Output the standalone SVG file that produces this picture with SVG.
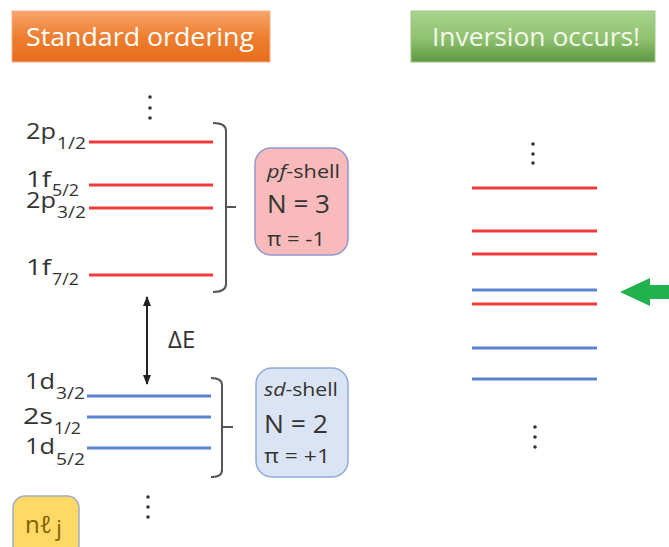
<svg xmlns="http://www.w3.org/2000/svg" width="669" height="547" viewBox="0 0 669 547">
<defs>
<linearGradient id="gOrange" x1="0" y1="0" x2="0" y2="1">
<stop offset="0" stop-color="#f7a46c"/>
<stop offset="0.5" stop-color="#ee7f30"/>
<stop offset="1" stop-color="#e66d1c"/>
</linearGradient>
<linearGradient id="gGreen" x1="0" y1="0" x2="0" y2="1">
<stop offset="0" stop-color="#a9d38e"/>
<stop offset="0.55" stop-color="#8fc16f"/>
<stop offset="1" stop-color="#5e9742"/>
</linearGradient>
<filter id="blur" x="-5%" y="-100%" width="110%" height="300%">
<feGaussianBlur stdDeviation="1"/>
</filter>
<marker id="ah" viewBox="0 0 10 10" refX="9" refY="5" markerWidth="5" markerHeight="5" orient="auto-start-reverse">
<path d="M0,1 L10,5 L0,9 Z" fill="#222"/>
</marker>
</defs>
<style>
text{font-family:"Open Sans",Lato,"Liberation Sans",sans-serif;fill:#333}
.hdr{fill:#ffffff;font-size:25px}
.lab{font-size:22px}
.sub{font-size:16px}
.red{stroke:#f23a3a;stroke-width:3}
.blue{stroke:#5b83d3;stroke-width:3}
.sh{stroke:#c8c8c8;stroke-width:3;filter:url(#blur)}
.br{fill:none;stroke:#555;stroke-width:2}
.dot{fill:#333}
.bt{font-size:18px}
.bn{font-size:26px}
.bp{font-size:20px}
</style>

<g id="header-standard">
<rect x="12" y="11" width="258" height="51" fill="url(#gOrange)" stroke="#f3b088" stroke-width="1"/>
<text class="hdr" x="26" y="46" textLength="228" lengthAdjust="spacingAndGlyphs">Standard ordering</text>
</g>
<g id="header-inversion">
<rect x="411" y="11" width="244" height="51" fill="url(#gGreen)" stroke="#9cc884" stroke-width="1"/>
<text class="hdr" x="432" y="46" textLength="208" lengthAdjust="spacingAndGlyphs" style="fill:#f2f8ec">Inversion occurs!</text>
</g>

<g id="levels-standard">
<line class="sh" x1="89" y1="146" x2="213" y2="146"/>
<line class="red" x1="89" y1="142" x2="213" y2="142"/>
<line class="sh" x1="89" y1="189" x2="213" y2="189"/>
<line class="red" x1="89" y1="185" x2="213" y2="185"/>
<line class="sh" x1="89" y1="212" x2="213" y2="212"/>
<line class="red" x1="89" y1="208" x2="213" y2="208"/>
<line class="sh" x1="89" y1="279" x2="213" y2="279"/>
<line class="red" x1="89" y1="275" x2="213" y2="275"/>
<line class="sh" x1="87" y1="400" x2="211" y2="400"/>
<line class="blue" x1="87" y1="396" x2="211" y2="396"/>
<line class="sh" x1="87" y1="421" x2="211" y2="421"/>
<line class="blue" x1="87" y1="417" x2="211" y2="417"/>
<line class="sh" x1="87" y1="452" x2="211" y2="452"/>
<line class="blue" x1="87" y1="448" x2="211" y2="448"/>
</g>

<g id="labels">
<text class="lab" x="26" y="139" textLength="30" lengthAdjust="spacingAndGlyphs">2p</text>
<text class="sub" x="57" y="149" textLength="29" lengthAdjust="spacingAndGlyphs">1/2</text>
<text class="lab" x="26" y="187" textLength="25" lengthAdjust="spacingAndGlyphs">1f</text>
<text class="sub" x="52" y="196" textLength="27" lengthAdjust="spacingAndGlyphs">5/2</text>
<text class="lab" x="26" y="208" textLength="30" lengthAdjust="spacingAndGlyphs">2p</text>
<text class="sub" x="57" y="218" textLength="29" lengthAdjust="spacingAndGlyphs">3/2</text>
<text class="lab" x="26" y="275" textLength="25" lengthAdjust="spacingAndGlyphs">1f</text>
<text class="sub" x="52" y="285" textLength="27" lengthAdjust="spacingAndGlyphs">7/2</text>
<text class="lab" x="25" y="389" textLength="30" lengthAdjust="spacingAndGlyphs">1d</text>
<text class="sub" x="56" y="399" textLength="29" lengthAdjust="spacingAndGlyphs">3/2</text>
<text class="lab" x="23" y="424" textLength="30" lengthAdjust="spacingAndGlyphs">2s</text>
<text class="sub" x="54" y="434" textLength="27" lengthAdjust="spacingAndGlyphs">1/2</text>
<text class="lab" x="25" y="454" textLength="30" lengthAdjust="spacingAndGlyphs">1d</text>
<text class="sub" x="56" y="465" textLength="29" lengthAdjust="spacingAndGlyphs">5/2</text>
</g>

<g id="brackets">
<path class="br" d="M213,123 Q226,123 226,131 V284 Q226,292 213,292 M226,207 H236"/>
<path class="br" d="M211,378 Q222,378 222,385 V470 Q222,477 211,477 M222,427 H233"/>
</g>

<g id="pf-shell">
<rect x="255" y="148" width="93" height="107" rx="16" fill="#f8baba" stroke="#8f96cc" stroke-width="1.5"/>
<text class="bt" x="267" y="178" textLength="73" lengthAdjust="spacingAndGlyphs"><tspan font-style="italic">pf</tspan>-shell</text>
<text class="bn" x="267" y="213" textLength="63" lengthAdjust="spacingAndGlyphs">N = 3</text>
<text class="bp" x="267" y="246" textLength="58" lengthAdjust="spacingAndGlyphs">π = -1</text>
</g>

<g id="sd-shell">
<rect x="256" y="368" width="92" height="109" rx="16" fill="#dbe4f4" stroke="#8eaadb" stroke-width="1.5"/>
<text class="bt" x="264" y="396" textLength="74" lengthAdjust="spacingAndGlyphs"><tspan font-style="italic">sd</tspan>-shell</text>
<text class="bn" x="264" y="433" textLength="64" lengthAdjust="spacingAndGlyphs">N = 2</text>
<text class="bp" x="264" y="463" textLength="66" lengthAdjust="spacingAndGlyphs">π = +1</text>
</g>

<g id="nlj-legend">
<rect x="13" y="496" width="66" height="62" rx="12" fill="#ffd966" stroke="#9eaac6" stroke-width="1.5"/>
<text x="25" y="533" style="font-size:24px;fill:#7f6000">nℓ<tspan dx="4" dy="3" style="font-size:22px">j</tspan></text>
</g>

<g id="delta-e">
<text x="168" y="348" style="font-size:24px">ΔE</text>
</g>

<g id="levels-inverted">
<line class="sh" x1="472" y1="192" x2="597" y2="192"/>
<line class="red" x1="472" y1="188" x2="597" y2="188"/>
<line class="sh" x1="472" y1="235" x2="597" y2="235"/>
<line class="red" x1="472" y1="231" x2="597" y2="231"/>
<line class="sh" x1="472" y1="258" x2="597" y2="258"/>
<line class="red" x1="472" y1="254" x2="597" y2="254"/>
<line class="sh" x1="472" y1="294" x2="597" y2="294"/>
<line class="blue" x1="472" y1="290" x2="597" y2="290"/>
<line class="sh" x1="472" y1="308" x2="597" y2="308"/>
<line class="red" x1="472" y1="304" x2="597" y2="304"/>
<line class="sh" x1="472" y1="352" x2="597" y2="352"/>
<line class="blue" x1="472" y1="348" x2="597" y2="348"/>
<line class="sh" x1="472" y1="383" x2="597" y2="383"/>
<line class="blue" x1="472" y1="379" x2="597" y2="379"/>
</g>

<g id="ellipses">
<circle class="dot" cx="150" cy="97" r="1.8"/>
<circle class="dot" cx="150" cy="108" r="1.8"/>
<circle class="dot" cx="150" cy="118" r="1.8"/>
<circle class="dot" cx="148" cy="497" r="1.8"/>
<circle class="dot" cx="148" cy="507" r="1.8"/>
<circle class="dot" cx="148" cy="517" r="1.8"/>
<circle class="dot" cx="533" cy="144" r="1.8"/>
<circle class="dot" cx="533" cy="154" r="1.8"/>
<circle class="dot" cx="533" cy="163" r="1.8"/>
<circle class="dot" cx="535" cy="427" r="1.8"/>
<circle class="dot" cx="535" cy="437" r="1.8"/>
<circle class="dot" cx="535" cy="447" r="1.8"/>
</g>

<g id="connectors">
<line x1="147" y1="297" x2="147" y2="384" stroke="#222" stroke-width="2" marker-start="url(#ah)" marker-end="url(#ah)"/>
<polygon points="620,292 650,278 650,285 669,285 669,299 650,299 650,306" fill="#22b14c"/>
</g>
</svg>
